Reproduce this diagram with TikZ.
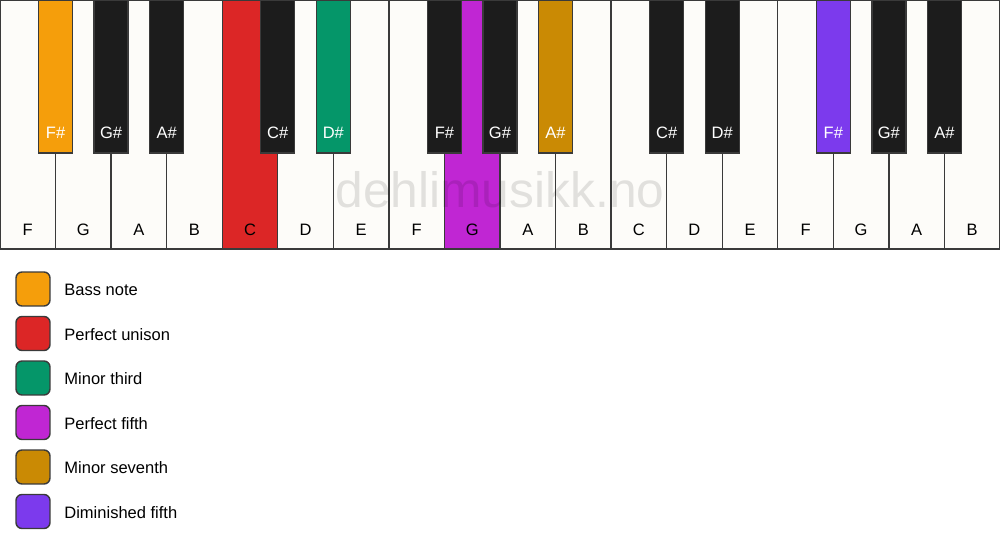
\documentclass[tikz,border=0pt]{standalone}
\usepackage{fontspec}
\setmainfont{Liberation Sans}
\usetikzlibrary{positioning}

\definecolor{keywhite}{HTML}{FDFCF9}
\definecolor{keyblack}{HTML}{1C1C1C}
\definecolor{keyline}{HTML}{3A3A3A}
\definecolor{bass}{HTML}{F59E0B}
\definecolor{unison}{HTML}{DC2626}
\definecolor{third}{HTML}{059669}
\definecolor{fifth}{HTML}{C026D3}
\definecolor{seventh}{HTML}{CA8A04}
\definecolor{dimfifth}{HTML}{7C3AED}

\tikzset{
  keytext/.style={font=\fontsize{9.4}{11}\selectfont, inner sep=0pt},
  legbox/.style={draw=keyline, line width=0.8pt, rounded corners=0.12cm,
    minimum width=0.68cm, minimum height=0.68cm, inner sep=0pt},
}

\begin{document}
\begin{tikzpicture}[x=0.02cm, y=-0.02cm, line width=0.8pt]
  \useasboundingbox (0,0) rectangle (1000,550);
  \fill[white] (0,0) rectangle (1000,550);

  % white keys
  \foreach \n/\c [count=\i from 0] in {F/keywhite,G/keywhite,A/keywhite,B/keywhite,
      C/unison,D/keywhite,E/keywhite,F/keywhite,G/fifth,A/keywhite,B/keywhite,
      C/keywhite,D/keywhite,E/keywhite,F/keywhite,G/keywhite,A/keywhite,B/keywhite}
  {
    \draw[draw=keyline, fill=\c] ({\i*55.5556},0) rectangle ({(\i+1)*55.5556},249);
    \node[keytext] (w\i) at ({(\i+0.5)*55.5556},230) {\n};
  }

  % watermark
  \node[font=\fontsize{28.3}{30}\selectfont, text=black, text opacity=0.11,
    anchor=base, inner sep=0pt] (mark) at (500,208) {dehlimusikk.no};

  % black keys
  \foreach \b/\n/\c in {1/F\#/bass,2/G\#/keyblack,3/A\#/keyblack,5/C\#/keyblack,
      6/D\#/third,8/F\#/keyblack,9/G\#/keyblack,10/A\#/seventh,12/C\#/keyblack,
      13/D\#/keyblack,15/F\#/dimfifth,16/G\#/keyblack,17/A\#/keyblack}
  {
    \draw[draw=keyline, fill=\c] ({\b*55.5556-17},0) rectangle ({\b*55.5556+17},153);
    \node[keytext, text=white] (b\b) at ({\b*55.5556},133) {\n};
  }

  % legend
  \foreach \c/\t [count=\i from 0] in {bass/Bass note,unison/Perfect unison,
      third/Minor third,fifth/Perfect fifth,seventh/Minor seventh,
      dimfifth/Diminished fifth}
  {
    \node[legbox, fill=\c] (leg\i) at (33,{289+\i*44.5}) {};
    \node[keytext, anchor=west, right=0.26cm of leg\i, yshift=-0.02cm] (legtext\i) {\t};
  }
\end{tikzpicture}
\end{document}
